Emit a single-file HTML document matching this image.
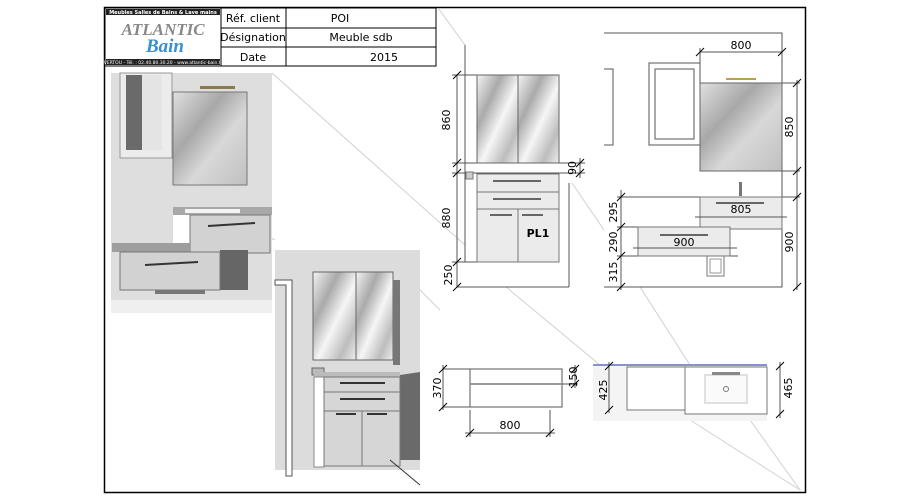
<!DOCTYPE html>
<html><head><meta charset="utf-8"><style>
html,body{margin:0;padding:0;background:#fff;}
svg{display:block;font-family:"DejaVu Sans","Liberation Sans",sans-serif;}
</style></head><body>
<svg width="907" height="500" viewBox="0 0 907 500" xmlns="http://www.w3.org/2000/svg">
<defs>
<linearGradient id="mir" x1="0" y1="0" x2="1" y2="1">
<stop offset="0" stop-color="#f4f4f4"/><stop offset="0.3" stop-color="#aaa"/><stop offset="0.55" stop-color="#f6f6f6"/><stop offset="0.8" stop-color="#bdbdbd"/><stop offset="1" stop-color="#eee"/></linearGradient>
<linearGradient id="mir2" x1="0" y1="0" x2="1" y2="1">
<stop offset="0" stop-color="#e0e0e0"/><stop offset="0.35" stop-color="#a8a8a8"/><stop offset="0.6" stop-color="#d8d8d8"/><stop offset="1" stop-color="#c0c0c0"/></linearGradient>
</defs>
<!-- frame -->
<rect x="104.5" y="7.5" width="701" height="485" fill="none" stroke="#000" stroke-width="1.5"/>
<!-- faint diagonal connectors -->
<g stroke="#d0d0d0" stroke-width="1" fill="none">
<line x1="272" y1="73" x2="465" y2="245"/>
<line x1="438" y1="8" x2="465" y2="45"/>
<line x1="572" y1="183" x2="604" y2="230"/>
<line x1="506" y1="287" x2="600" y2="365"/>
<line x1="640" y1="287" x2="690" y2="365"/>
<line x1="690" y1="420" x2="800" y2="490"/>
<line x1="750" y1="420" x2="800" y2="490"/>
<line x1="420" y1="290" x2="440" y2="310"/>
<line x1="275" y1="240" x2="255" y2="230"/>
</g>
<!-- header logo -->
<rect x="105" y="8" width="116" height="58" fill="#fff" stroke="#000"/>
<rect x="106" y="9" width="114" height="6" fill="#222"/>
<text x="163" y="14" font-size="5" fill="#fff" text-anchor="middle" font-weight="bold">Meubles Salles de Bains &amp; Lave mains</text>
<text x="163" y="35" font-size="17" font-style="italic" font-weight="bold" fill="#888" text-anchor="middle" font-family="Liberation Serif,serif">ATLANTIC</text>
<text x="165" y="52" font-size="19" font-style="italic" font-weight="bold" fill="#3a8fd0" text-anchor="middle" font-family="Liberation Serif,serif">Bain</text>
<rect x="106" y="59" width="114" height="6" fill="#222"/>
<text x="163" y="64" font-size="4.5" fill="#fff" text-anchor="middle">VERTOU - Tél. : 02.40.80.30.20 - www.atlantic-bain.fr</text>
<!-- table -->
<g stroke="#000" fill="none">
<rect x="221" y="8" width="215" height="58"/>
<line x1="221" y1="28" x2="436" y2="28"/>
<line x1="221" y1="47" x2="436" y2="47"/>
<line x1="286" y1="8" x2="286" y2="66"/>
</g>
<g font-size="11" fill="#000" text-anchor="middle">
<text x="253" y="22">Réf. client</text>
<text x="253" y="41">Désignation</text>
<text x="253" y="61">Date</text>
<text x="340" y="22">POI</text>
<text x="361" y="41">Meuble sdb</text>
<text x="384" y="61">2015</text>
</g>
<!-- render 1 -->
<rect x="111" y="73" width="161" height="240" fill="#dedede"/>
<rect x="111" y="300" width="161" height="13" fill="#efefef"/>
<rect x="120" y="73" width="52" height="85" fill="#ececec" stroke="#999"/>
<rect x="126" y="75" width="16" height="75" fill="#6a6a6a"/>
<rect x="142" y="75" width="20" height="75" fill="#e4e4e4"/>
<rect x="173" y="92" width="74" height="93" fill="url(#mir2)" stroke="#777"/>
<rect x="200" y="86" width="35" height="3" fill="#8a7a50"/>
<rect x="173" y="207" width="99" height="8" fill="#a8a8a8"/>
<rect x="185" y="209" width="55" height="4" fill="#f4f4f4"/>
<rect x="173" y="215" width="17" height="38" fill="#fff"/>
<rect x="190" y="215" width="80" height="38" fill="#d2d2d2" stroke="#777"/>
<line x1="208" y1="226" x2="255" y2="223" stroke="#333" stroke-width="2"/>
<rect x="220" y="250" width="28" height="40" fill="#666"/>
<rect x="112" y="243" width="78" height="9" fill="#9e9e9e"/>
<rect x="120" y="252" width="100" height="38" fill="#d2d2d2" stroke="#777"/>
<line x1="145" y1="265" x2="198" y2="262" stroke="#333" stroke-width="2"/>
<rect x="155" y="290" width="50" height="4" fill="#777"/>
<!-- render 2 -->
<rect x="275" y="250" width="145" height="220" fill="#dcdcdc"/>
<path d="M275 280 L292 280 L292 476 L286 476 L286 285 L275 285Z" fill="#fff" stroke="#555"/>
<rect x="313" y="272" width="43" height="88" fill="url(#mir)" stroke="#666"/>
<rect x="356" y="272" width="37" height="88" fill="url(#mir)" stroke="#666"/>
<rect x="393" y="280" width="7" height="85" fill="#777"/>
<path d="M400 375 L420 372 L420 460 L400 460Z" fill="#6a6a6a"/>
<rect x="312" y="368" width="12" height="7" fill="#bbb" stroke="#666"/>
<rect x="314" y="372" width="86" height="5" fill="#bbb"/>
<rect x="314" y="377" width="10" height="90" fill="#fff" stroke="#888"/>
<rect x="324" y="377" width="76" height="15" fill="#d6d6d6" stroke="#777"/>
<rect x="324" y="392" width="76" height="19" fill="#d6d6d6" stroke="#777"/>
<rect x="324" y="411" width="38" height="55" fill="#d6d6d6" stroke="#777"/>
<rect x="362" y="411" width="38" height="55" fill="#d6d6d6" stroke="#777"/>
<g stroke="#333" stroke-width="2"><line x1="340" y1="383" x2="385" y2="383"/><line x1="340" y1="399" x2="385" y2="399"/><line x1="336" y1="414" x2="356" y2="414"/><line x1="367" y1="414" x2="387" y2="414"/></g>
<line x1="390" y1="460" x2="420" y2="485" stroke="#333"/>
<!-- front elevation -->
<g stroke="#555" fill="none" stroke-width="1">
<line x1="465" y1="45" x2="465" y2="262"/>
<line x1="457" y1="75" x2="457" y2="287"/>
<line x1="457" y1="287" x2="569" y2="287"/>
<line x1="569" y1="183" x2="569" y2="287"/>
<line x1="452" y1="75" x2="477" y2="75"/>
<line x1="452" y1="163" x2="585" y2="163"/>
<line x1="452" y1="173" x2="585" y2="173"/>
<line x1="452" y1="262" x2="477" y2="262"/>
<line x1="580" y1="158" x2="580" y2="178"/>
</g>
<g stroke="#000" stroke-width="1">
<line x1="453" y1="79" x2="461" y2="71"/><line x1="453" y1="167" x2="461" y2="159"/><line x1="453" y1="177" x2="461" y2="169"/>
<line x1="453" y1="266" x2="461" y2="258"/><line x1="453" y1="291" x2="461" y2="283"/>
<line x1="576" y1="167" x2="584" y2="159"/><line x1="576" y1="177" x2="584" y2="169"/>
</g>
<rect x="477" y="75" width="41" height="88" fill="url(#mir)" stroke="#666"/>
<rect x="518" y="75" width="41" height="88" fill="url(#mir)" stroke="#666"/>
<rect x="466" y="172" width="7" height="7" fill="#ccc" stroke="#777"/>
<g fill="#ebebeb" stroke="#777">
<rect x="477" y="174" width="82" height="18"/><rect x="477" y="192" width="82" height="17"/>
<rect x="477" y="209" width="41" height="53"/><rect x="518" y="209" width="41" height="53"/>
</g>
<g stroke="#666" stroke-width="2"><line x1="493" y1="181" x2="541" y2="181"/><line x1="493" y1="199" x2="541" y2="199"/><line x1="490" y1="215" x2="512" y2="215"/><line x1="522" y1="215" x2="543" y2="215"/></g>
<text x="538" y="237" font-size="11" font-weight="bold" text-anchor="middle">PL1</text>
<g font-size="11" fill="#000" text-anchor="middle">
<text transform="translate(450,120) rotate(-90)">860</text>
<text transform="translate(450,218) rotate(-90)">880</text>
<text transform="translate(452,275) rotate(-90)">250</text>
<text transform="translate(576,168) rotate(-90)">90</text>
</g>
<!-- right elevation -->
<g stroke="#555" fill="none">
<polyline points="604,33 782,33 782,287 604,287"/>
<polyline points="604,69 613,69 613,145 604,145"/>
<rect x="649" y="63" width="51" height="82"/>
<rect x="655" y="69" width="39" height="70"/>
<line x1="700" y1="52" x2="782" y2="52"/>
<line x1="700" y1="48" x2="700" y2="83"/>
<line x1="782" y1="83" x2="800" y2="83"/><line x1="782" y1="171" x2="800" y2="171"/>
<line x1="797" y1="80" x2="797" y2="290"/>
<line x1="621" y1="190" x2="621" y2="290"/>
<line x1="617" y1="197" x2="800" y2="197"/>
<line x1="617" y1="227" x2="700" y2="227"/>
<line x1="617" y1="256" x2="738" y2="256"/>
</g>
<g stroke="#000"><line x1="696" y1="56" x2="704" y2="48"/><line x1="778" y1="56" x2="786" y2="48"/>
<line x1="793" y1="87" x2="801" y2="79"/><line x1="793" y1="175" x2="801" y2="167"/><line x1="793" y1="201" x2="801" y2="193"/><line x1="793" y1="291" x2="801" y2="283"/>
<line x1="617" y1="201" x2="625" y2="193"/><line x1="617" y1="231" x2="625" y2="223"/><line x1="617" y1="260" x2="625" y2="252"/><line x1="617" y1="291" x2="625" y2="283"/></g>
<rect x="700" y="83" width="82" height="88" fill="url(#mir2)" stroke="#666"/>
<rect x="726" y="78" width="30" height="2" fill="#b8a050"/>
<rect x="739" y="182" width="3" height="14" fill="#777"/>
<rect x="700" y="197" width="82" height="32" fill="#ebebeb" stroke="#777"/>
<line x1="716" y1="203" x2="764" y2="203" stroke="#666" stroke-width="2"/>
<line x1="695" y1="217" x2="787" y2="217" stroke="#555"/>
<rect x="638" y="227" width="92" height="29" fill="#ebebeb" stroke="#777"/>
<line x1="660" y1="235" x2="708" y2="235" stroke="#666" stroke-width="2"/>
<line x1="633" y1="248" x2="737" y2="248" stroke="#555"/>
<rect x="707" y="256" width="17" height="20" fill="#fff" stroke="#777"/>
<rect x="710" y="259" width="11" height="14" fill="none" stroke="#999"/>
<g font-size="11" fill="#000" text-anchor="middle">
<text x="741" y="49">800</text>
<text transform="translate(793,127) rotate(-90)">850</text>
<text x="741" y="213">805</text>
<text x="684" y="246">900</text>
<text transform="translate(793,242) rotate(-90)">900</text>
<text transform="translate(617,212) rotate(-90)">295</text>
<text transform="translate(617,242) rotate(-90)">290</text>
<text transform="translate(617,272) rotate(-90)">315</text>
</g>
<!-- plan left -->
<g stroke="#555" fill="none">
<line x1="443" y1="369" x2="562" y2="369"/>
<rect x="470" y="369" width="92" height="38"/>
<line x1="470" y1="384" x2="562" y2="384" stroke="#999" stroke-width="2"/>
<line x1="443" y1="407" x2="470" y2="407"/>
<line x1="443" y1="365" x2="443" y2="410"/>
<line x1="470" y1="410" x2="470" y2="437"/><line x1="550" y1="410" x2="550" y2="437"/>
<line x1="465" y1="433" x2="555" y2="433"/>
<line x1="562" y1="384" x2="578" y2="384"/>
<line x1="575" y1="365" x2="575" y2="388"/>
</g>
<g stroke="#000"><line x1="439" y1="373" x2="447" y2="365"/><line x1="439" y1="411" x2="447" y2="403"/><line x1="466" y1="437" x2="474" y2="429"/><line x1="546" y1="437" x2="554" y2="429"/><line x1="571" y1="373" x2="579" y2="365"/><line x1="571" y1="388" x2="579" y2="380"/></g>
<g font-size="11" fill="#000" text-anchor="middle">
<text transform="translate(441,388) rotate(-90)">370</text>
<text x="510" y="429">800</text>
<text transform="translate(577,377) rotate(-90)">150</text>
</g>
<!-- plan right -->
<rect x="593" y="365" width="174" height="56" fill="#f4f4f4"/>
<line x1="593" y1="365" x2="767" y2="365" stroke="#8890d0" stroke-width="2"/>
<rect x="627" y="367" width="58" height="43" fill="#fff" stroke="#777"/>
<rect x="685" y="367" width="82" height="47" fill="#fff" stroke="#777"/>
<rect x="705" y="375" width="42" height="28" fill="#fafafa" stroke="#e0e0e0" stroke-width="2"/>
<rect x="712" y="372" width="28" height="3" fill="#888"/>
<circle cx="726" cy="389" r="2.5" fill="none" stroke="#777"/>
<g stroke="#555"><line x1="609" y1="362" x2="609" y2="413"/><line x1="780" y1="362" x2="780" y2="418"/></g>
<g stroke="#000"><line x1="605" y1="370" x2="613" y2="362"/><line x1="605" y1="414" x2="613" y2="406"/><line x1="776" y1="370" x2="784" y2="362"/><line x1="776" y1="418" x2="784" y2="410"/></g>
<g font-size="11" fill="#000" text-anchor="middle">
<text transform="translate(607,390) rotate(-90)">425</text>
<text transform="translate(792,388) rotate(-90)">465</text>
</g>
</svg>
</body></html>
